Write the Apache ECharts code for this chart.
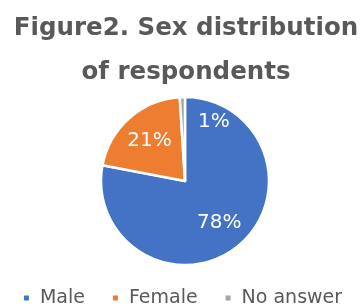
<!DOCTYPE html>
<html>
<head>
<meta charset="utf-8">
<title>Figure2</title>
<script src="https://cdn.jsdelivr.net/npm/echarts@6/dist/echarts.min.js"></script>
<style>
  html, body { margin: 0; padding: 0; background: #fff; }
  #chart { width: 364px; height: 306px; }
</style>
</head>
<body>
<div id="chart"></div>
<script>
// data
var categories = ['Male', 'Female', 'No answer']
var shares = [78, 21, 1]
var colors = ['#4472C4', '#ED7D31', '#A5A5A5']

// where the pie sits
var pieCenter = [185, 181]
var pieRadius = 84
// label placement: fraction of radius, extra clockwise turn (deg)
var labelSpot = [[0.64, 0], [0.64, 0], [0.78, 28]]

var chart = echarts.init(document.getElementById('chart'))

var pieData = categories.map(function (name, i) {
  return { name: name, value: shares[i], itemStyle: { color: colors[i] } }
})

chart.setOption({
  animation: false,
  title: {
    text: 'Figure2. Sex distribution\nof respondents',
    left: 186,
    top: 7,
    padding: 0,
    textAlign: 'center',
    textStyle: {
      color: '#595959',
      fontFamily: 'DejaVu Sans',
      fontWeight: 'bold',
      fontSize: 24.5,
      lineHeight: 44
    }
  },
  legend: {
    data: categories,
    left: 'center',
    top: 283,
    icon: 'rect',
    itemWidth: 7,
    itemHeight: 7,
    itemGap: 26,
    textStyle: {
      color: '#595959',
      fontFamily: 'DejaVu Sans',
      fontSize: 19,
      lineHeight: 20,
      padding: [0, 0, 0, 5]
    }
  },
  series: [
    {
      type: 'pie',
      center: pieCenter,
      radius: pieRadius,
      startAngle: 90,
      clockwise: true,
      data: pieData,
      itemStyle: { borderColor: '#fff', borderWidth: 2.5 },
      label: {
        show: true,
        position: 'inside',
        formatter: '{d}%',
        color: '#fff',
        fontFamily: 'DejaVu Sans',
        fontSize: 20
      },
      labelLine: { show: false },
      labelLayout: function (p) {
        var r = p.labelRect
        var lx = r.x + r.width / 2 - pieCenter[0]
        var ly = r.y + r.height / 2 - pieCenter[1]
        var spot = labelSpot[p.dataIndex]
        var ang = Math.atan2(lx, -ly) + spot[1] * Math.PI / 180
        var rad = pieRadius * spot[0]
        return {
          x: pieCenter[0] + Math.sin(ang) * rad,
          y: pieCenter[1] - Math.cos(ang) * rad,
          align: 'center',
          verticalAlign: 'middle'
        }
      }
    }
  ]
})
</script>
</body>
</html>
